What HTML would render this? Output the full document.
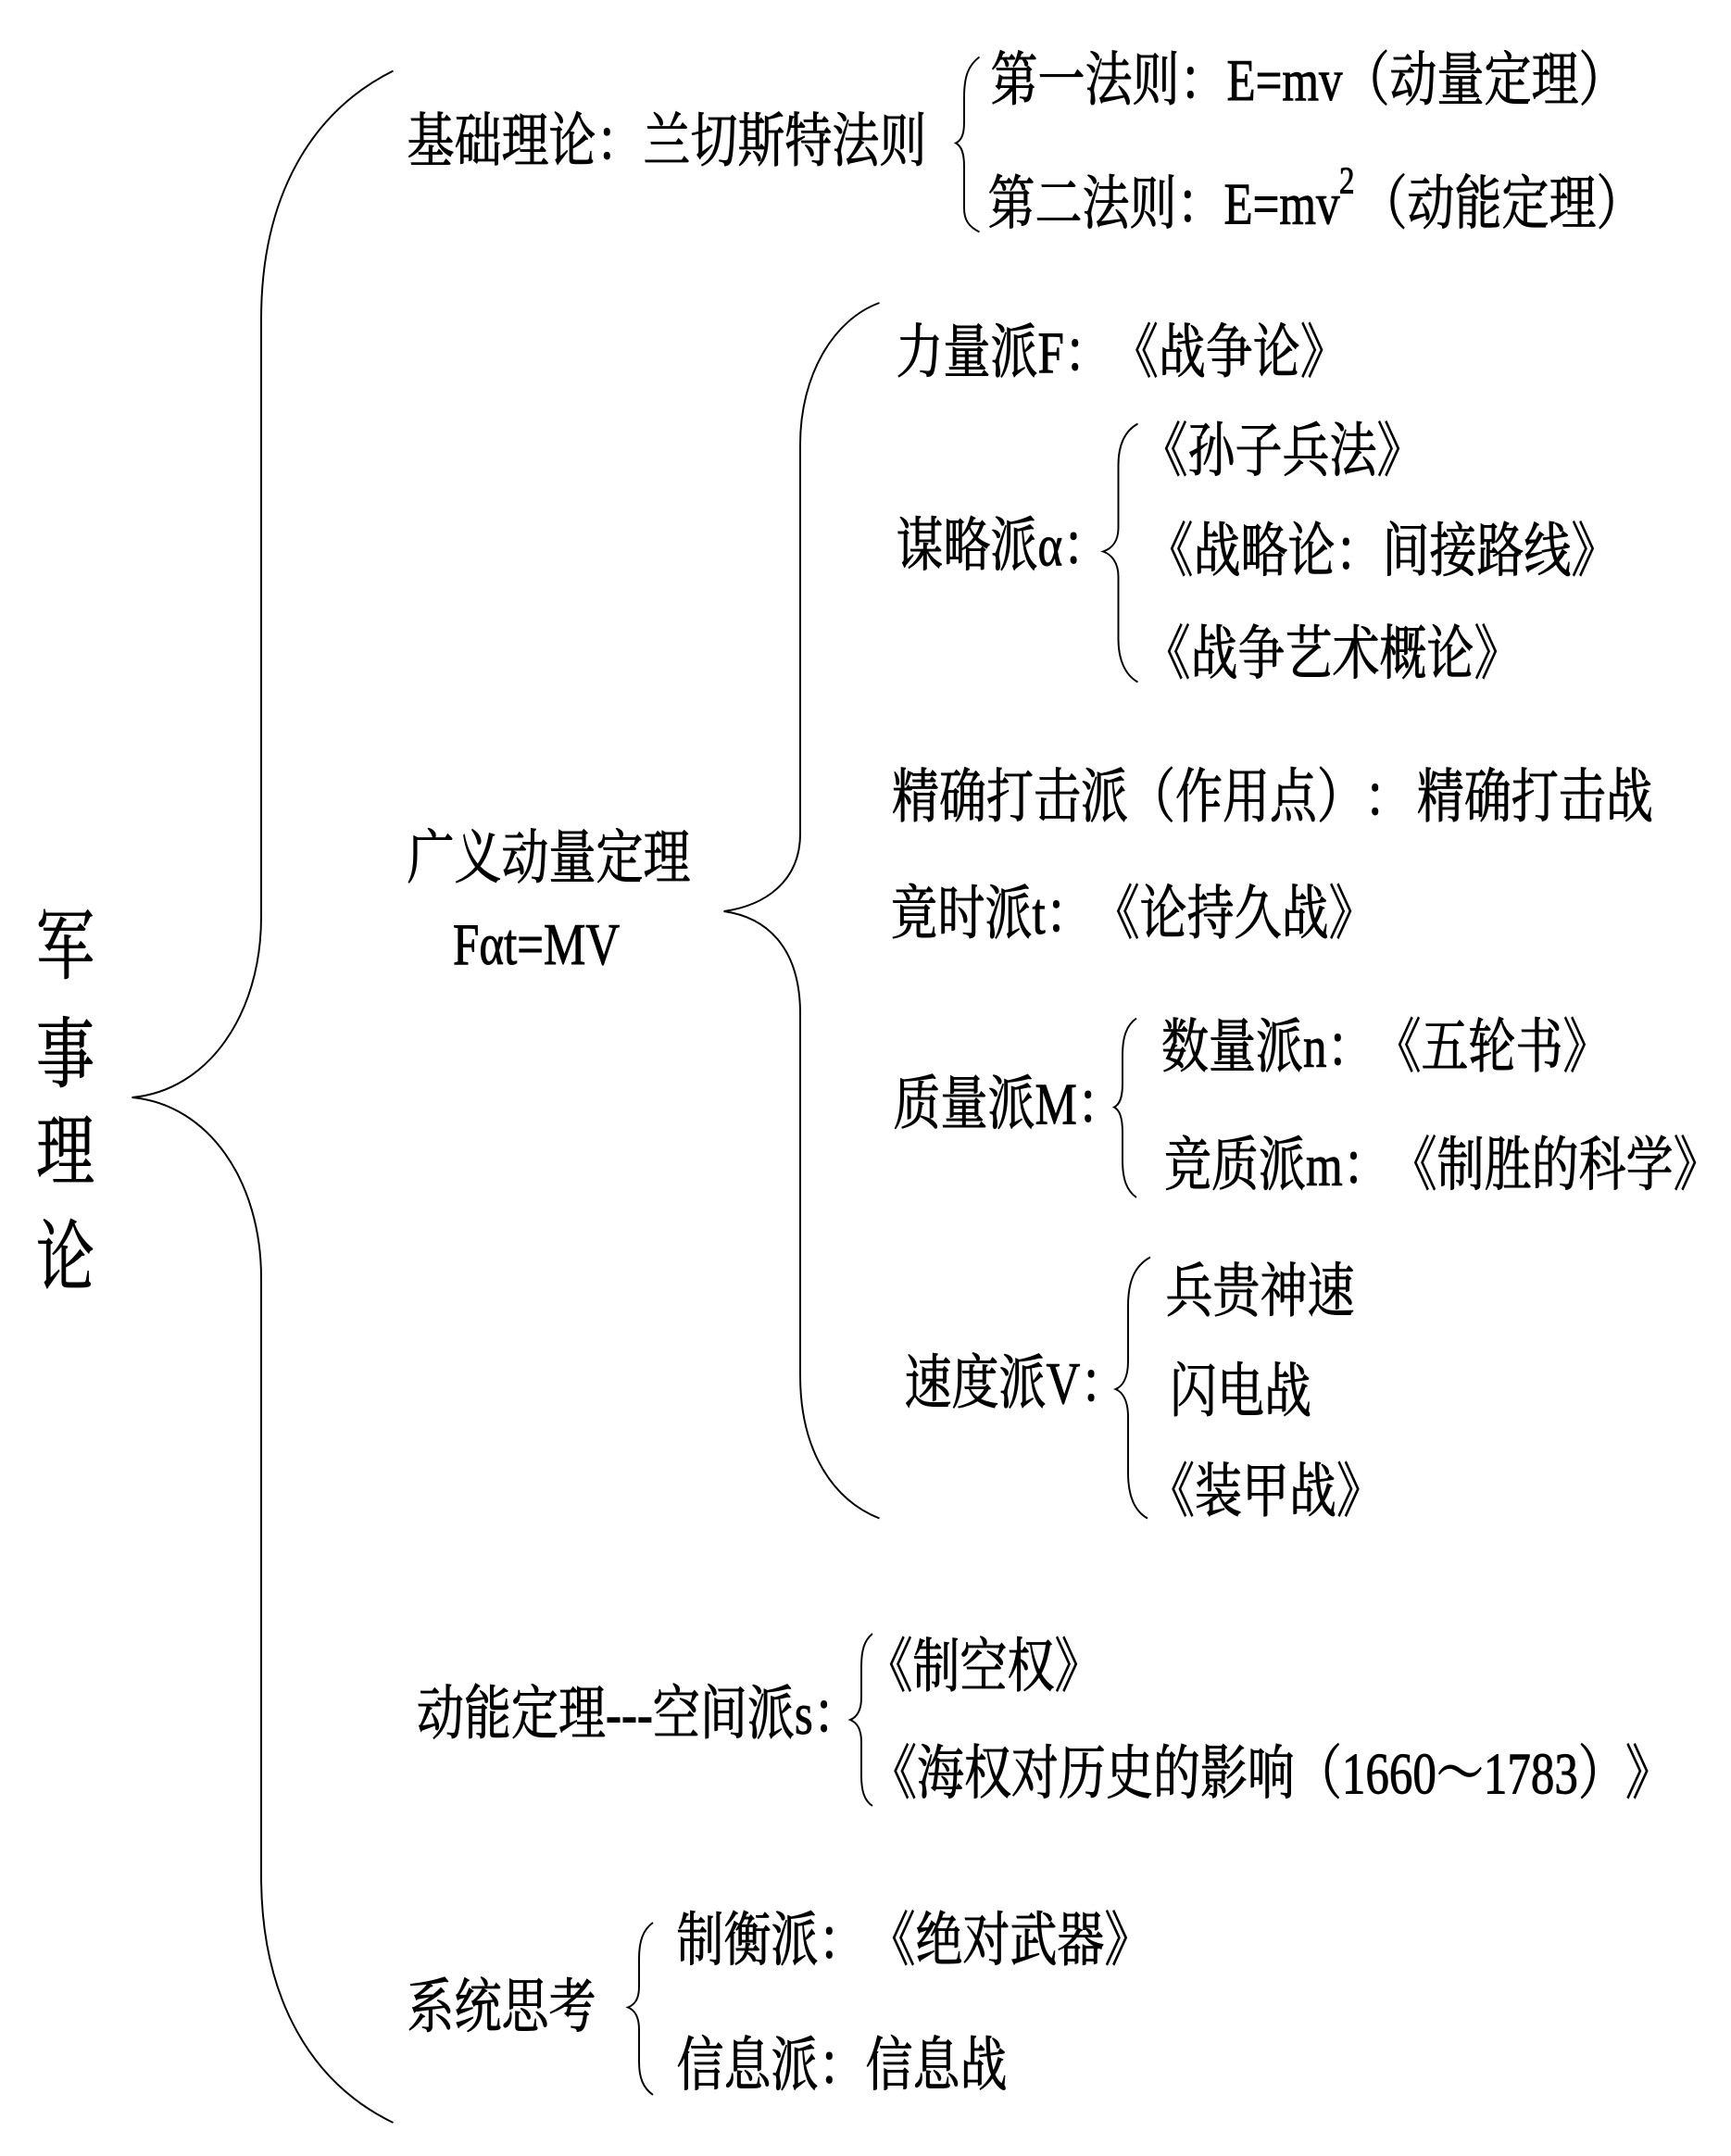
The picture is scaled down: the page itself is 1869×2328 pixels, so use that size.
<!DOCTYPE html>
<html><head><meta charset="utf-8"><style>
html,body{margin:0;padding:0;background:#fff}
svg{display:block}
text{font-family:"Liberation Serif","Noto Serif CJK SC",serif;font-size:34px;fill:#000;stroke:#000;stroke-width:.5px;white-space:pre;text-spacing-trim:space-all;text-autospace:no-autospace}
text.t{font-size:42px}
text.s{font-size:22px}
path{fill:none;stroke:#000;stroke-width:1.3}
</style></head><body>
<svg xmlns="http://www.w3.org/2000/svg" width="1869" height="2328" viewBox="0 0 1246 1552">
<rect width="1246" height="1552" fill="#fff" style="stroke:none"/>
<path d="M283 51C225 80 188 140 188 230V660C188 730 150 785 95 790C150 795 188 850 188 920V1350C188 1440 225 1500 283 1528"/>
<path d="M633 218C600 230 576 270 576 320V600C576 635 550 652 521 656C550 660 576 680 576 730V990C576 1045 600 1080 633 1093"/>
<path d="M705 41C697 47 694 55 694 70V88C694 97 692 101 688 103C692 105 694 110 694 120V150C694 158 697 163 705 167"/>
<path d="M819 305C810 310 805 320 805 335V380C805 390 800 395 794 397C800 399 805 405 805 415V460C805 475 810 486 819 491"/>
<path d="M818 733C811 738 808 746 808 760V780C808 790 806 795 802 797C806 799 808 805 808 815V835C808 849 811 857 818 862"/>
<path d="M828 905C817 911 812 922 812 940V980C812 992 808 998 803 1000C808 1002 812 1008 812 1020V1060C812 1077 817 1088 826 1093"/>
<path d="M628 1176C622 1181 620 1188 620 1200V1222C620 1231 617 1236 612 1238C617 1240 620 1245 620 1254V1278C620 1289 622 1296 628 1300"/>
<path d="M470 1384C463 1389 460 1397 460 1410V1430C460 1439 457 1443 452 1445C457 1447 460 1452 460 1461V1484C460 1496 463 1503 470 1508"/>

<text class="t" transform="translate(26,700) scale(1,1.32)">军</text>
<text class="t" transform="translate(26,778) scale(1,1.32)">事</text>
<text class="t" transform="translate(26,848) scale(1,1.32)">理</text>
<text class="t" transform="translate(26,924) scale(1,1.32)">论</text>

<text transform="translate(293,116) scale(1,1.25)">基础理论&#xFF1A;兰切斯特法则</text>
<text transform="translate(713,72) scale(1,1.25)">第一法则&#xFF1A;E=mv&#xFF08;动量定理&#xFF09;</text>
<text transform="translate(711,161) scale(1,1.25)">第二法则&#xFF1A;E=mv</text>
<text class="s" transform="translate(964,139) scale(1,1.25)">2</text>
<text transform="translate(979,161) scale(1,1.25)">&#xFF08;动能定理&#xFF09;</text>

<text transform="translate(645,268) scale(1,1.25)">力量派F&#xFF1A;《战争论》</text>
<text transform="translate(645,407) scale(1,1.25)">谋略派α&#xFF1A;</text>
<text transform="translate(821,339) scale(1,1.25)">《孙子兵法》</text>
<text transform="translate(825,411) scale(1,1.25)">《战略论&#xFF1A;间接路线》</text>
<text transform="translate(823,485) scale(1,1.25)">《战争艺术概论》</text>
<text transform="translate(642,588) scale(1,1.25)">精确打击派&#xFF08;作用点&#xFF09;&#xFF1A;<tspan dx="4">精确打击战</tspan></text>
<text transform="translate(641,672) scale(1,1.25)">竟时派t&#xFF1A;《论持久战》</text>
<text transform="translate(643,809) scale(1,1.25)">质量派M&#xFF1A;</text>
<text transform="translate(836,768) scale(1,1.25)">数量派n&#xFF1A;《五轮书》</text>
<text transform="translate(838,853) scale(1,1.25)">竞质派m&#xFF1A;《制胜的科学》</text>
<text transform="translate(651,1010) scale(1,1.25)">速度派V&#xFF1A;</text>
<text transform="translate(839,944) scale(1,1.25)">兵贵神速</text>
<text transform="translate(842,1016) scale(1,1.25)">闪电战</text>
<text transform="translate(826,1088) scale(1,1.25)">《装甲战》</text>

<text transform="translate(293,632) scale(1,1.25)">广义动量定理</text>
<text transform="translate(326,694) scale(1,1.25)">Fαt=MV</text>

<text transform="translate(300,1248) scale(1,1.25)">动能定理---空间派s&#xFF1A;</text>
<text transform="translate(623,1214) scale(1,1.25)">《制空权》</text>
<text transform="translate(626,1291) scale(1,1.25)">《海权对历史的影响&#xFF08;1660&#xFF5E;1783&#xFF09;》</text>

<text transform="translate(293,1459) scale(1,1.25)">系统思考</text>
<text transform="translate(487,1411) scale(1,1.25)">制衡派&#xFF1A;<tspan dx="2">《绝对武器》</tspan></text>
<text transform="translate(487,1501) scale(1,1.25)">信息派&#xFF1A;信息战</text>
</svg>
</body></html>
